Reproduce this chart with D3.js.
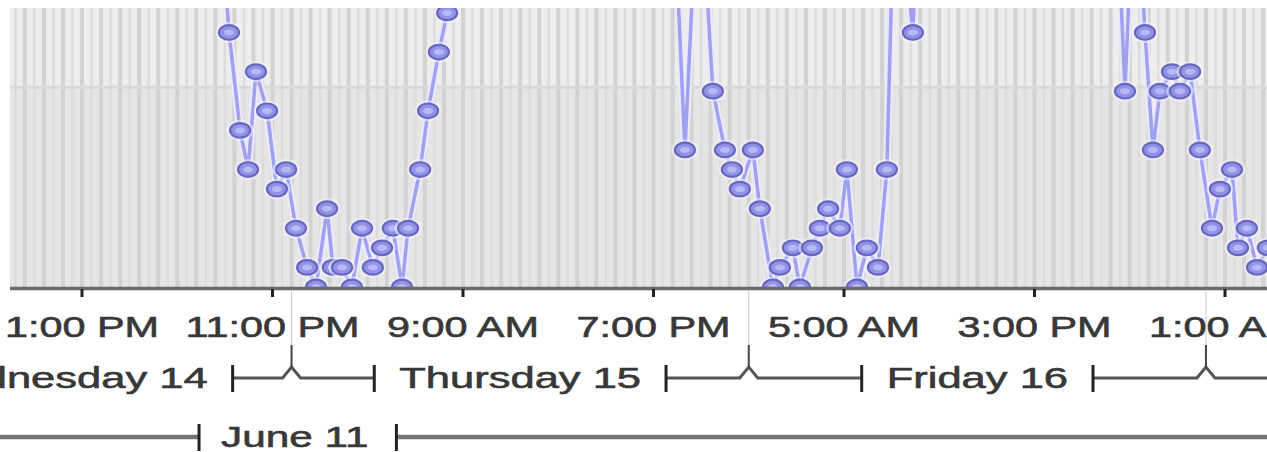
<!DOCTYPE html>
<html><head><meta charset="utf-8">
<script src="https://cdn.jsdelivr.net/npm/d3@7"></script>
<style>
body{margin:0;background:#fff;}
svg{display:block;}
text{font-family:"Liberation Sans",Arial,Helvetica,sans-serif;}
</style>
</head><body>
<svg id="c" width="1267" height="452"></svg>
<script>
// ---------- DATA ----------
const times = [
 "2006-06-14 20:12","2006-06-14 20:43","2006-06-14 21:18","2006-06-14 21:43","2006-06-14 22:08",
 "2006-06-14 22:43","2006-06-14 23:14","2006-06-14 23:43","2006-06-15 00:14","2006-06-15 00:49",
 "2006-06-15 01:17","2006-06-15 01:52","2006-06-15 02:10","2006-06-15 02:39","2006-06-15 03:10",
 "2006-06-15 03:42","2006-06-15 04:16","2006-06-15 04:45","2006-06-15 05:19","2006-06-15 05:48",
 "2006-06-15 06:07","2006-06-15 06:45","2006-06-15 07:10","2006-06-15 07:44","2006-06-15 08:10",
 "2006-06-15 08:41",
 "2006-06-15 19:58","2006-06-15 20:39","2006-06-15 21:23","2006-06-15 22:07","2006-06-15 22:45",
 "2006-06-15 23:07","2006-06-15 23:32","2006-06-16 00:13","2006-06-16 00:35","2006-06-16 01:16",
 "2006-06-16 01:38","2006-06-16 02:19","2006-06-16 02:41","2006-06-16 03:19","2006-06-16 03:44",
 "2006-06-16 04:10","2006-06-16 04:47","2006-06-16 05:09","2006-06-16 05:41","2006-06-16 06:12",
 "2006-06-16 06:47","2006-06-16 07:15","2006-06-16 07:41","2006-06-16 08:37","2006-06-16 08:59",
 "2006-06-16 19:13","2006-06-16 19:45","2006-06-16 20:16","2006-06-16 20:48","2006-06-16 21:13",
 "2006-06-16 21:35","2006-06-16 22:13","2006-06-16 22:38","2006-06-16 23:10","2006-06-16 23:41",
 "2006-06-17 00:19","2006-06-17 00:44","2006-06-17 01:22","2006-06-17 01:41","2006-06-17 02:09",
 "2006-06-17 02:41","2006-06-17 03:15"
];
const values = [
 20,13,8,6,11, 9,5,6,3,1, 0,4,1,1,0, 3,1,2,3,0, 3,6,9,12,14, 20,
 22,7,22,10,7, 6,5,7,4,0, 1,2,0,2,3, 4,3,6,0,2, 1,6,22,13,22,
 22,10,22,13,7, 10,11,10,11,7, 3,5,6,2,3, 1,2
];
const tickTimes = ["2006-06-14 13:00","2006-06-14 23:00","2006-06-15 09:00","2006-06-15 19:00",
                   "2006-06-16 05:00","2006-06-16 15:00","2006-06-17 01:00"];
const dayLabels = ["Wednesday 14","Thursday 15","Friday 16","Saturday 17"];
const dayCenters = ["2006-06-14 12:00","2006-06-15 12:00","2006-06-16 12:00","2006-06-17 12:00"];
const dayBoundaries = ["2006-06-15 00:00","2006-06-16 00:00","2006-06-17 00:00"];
const weekLabels = ["June 11"];
const weekCenters = ["2006-06-15 00:10"];

// ---------- SETUP ----------
const parse = d3.timeParse("%Y-%m-%d %H:%M");
const data = times.map((t,i)=>({t:parse(t), v:values[i]}));
const svg = d3.select("#c");
const W = 1267, leftX = 10, topY = 8, axisY = 287;
const pxPerHour = 19.05;
const t0 = parse("2006-06-14 13:00"), t1 = parse("2006-06-17 03:00");
const x = d3.scaleTime().domain([t0,t1]).range([82, 82 + 62*pxPerHour]);
const y = d3.scaleLinear().domain([0,14.25]).range([axisY, topY]);

svg.append("defs").append("clipPath").attr("id","clip")
  .append("rect").attr("x",leftX).attr("y",topY).attr("width",W-leftX).attr("height",axisY-topY);

// background
svg.append("rect").attr("x",leftX).attr("y",topY).attr("width",W-leftX).attr("height",axisY-topY).attr("fill","#e5e5e5");
svg.append("rect").attr("x",leftX).attr("y",topY).attr("width",W-leftX).attr("height",y(10.2)-topY).attr("fill","#ededee");
const g = svg.append("g").attr("clip-path","url(#clip)");
const dStart = x.invert(leftX), dEnd = x.invert(W);
const halfHours = d3.timeMinute.every(30).range(d3.timeHour.offset(dStart,-1), dEnd);
g.selectAll("line.vg").data(halfHours).join("line").attr("class","vg")
  .attr("x1",d=>x(d)).attr("x2",d=>x(d)).attr("y1",topY).attr("y2",axisY)
  .attr("stroke",d=>d.getMinutes()===0?"#d2d2d2":"#dcdcdc")
  .attr("stroke-width",d=>d.getMinutes()===0?4:2.5);
g.append("line").attr("x1",leftX).attr("x2",W).attr("y1",y(10.2)).attr("y2",y(10.2))
  .attr("stroke","#d9d9d9").attr("stroke-width",3);

// series
const line = d3.line().x(d=>x(d.t)).y(d=>y(d.v));
g.append("path").datum(data).attr("d",line).attr("fill","none")
  .attr("stroke","#e9e9fb").attr("stroke-width",8).attr("stroke-linejoin","round");
g.append("path").datum(data).attr("d",line).attr("fill","none")
  .attr("stroke","#a0a0ee").attr("stroke-width",3.5).attr("stroke-linejoin","round");
const m = g.selectAll("g.mk").data(data).join("g").attr("class","mk")
  .attr("transform",d=>`translate(${x(d.t)},${y(d.v)})`);
m.append("ellipse").attr("rx",13.5).attr("ry",10.5).attr("fill","#f4f4fd").attr("opacity",0.55);
m.append("ellipse").attr("rx",10).attr("ry",7.3).attr("fill","#9292e6").attr("stroke","#6767c0").attr("stroke-width",2.2);
m.append("ellipse").attr("rx",5).attr("ry",3).attr("fill","#b8b8f7");

// axis line & ticks
svg.append("line").attr("x1",leftX).attr("x2",W).attr("y1",axisY+1.5).attr("y2",axisY+1.5)
  .attr("stroke","#6a6a6a").attr("stroke-width",3.5);
const tks = tickTimes.map(parse);
svg.selectAll("line.tk").data(tks).join("line").attr("class","tk")
  .attr("x1",d=>x(d)).attr("x2",d=>x(d)).attr("y1",axisY+2).attr("y2",axisY+10)
  .attr("stroke","#222").attr("stroke-width",3);

function addText(px, py, str, sx){
  const t = svg.append("text")
    .attr("transform",`translate(${px},${py}) scale(${sx},1)`)
    .attr("text-anchor","middle").style("font-size","30px")
    .attr("fill","#383838").attr("stroke","#383838").attr("stroke-width",0.6).text(str);
  return t.node().getComputedTextLength()*sx;
}
const fmt = d3.timeFormat("%-I:%M %p");
// day boundary thin lines
const bnds = dayBoundaries.map(parse);
svg.selectAll("line.bl").data(bnds).join("line").attr("class","bl")
  .attr("x1",d=>x(d)).attr("x2",d=>x(d)).attr("y1",axisY+3).attr("y2",346)
  .attr("stroke","#c8c8c8").attr("stroke-width",1);
tks.forEach(d=>addText(x(d), 337, fmt(d), 1.38));

// day row
const dayY = 378, gap = 25;
const dayW = dayLabels.map((s,i)=>addText(x(parse(dayCenters[i])), 388, s, 1.45));
for(let i=0;i<dayLabels.length-1;i++){
  const c0 = x(parse(dayCenters[i])), c1 = x(parse(dayCenters[i+1]));
  const l = c0 + dayW[i]/2 + gap, r = c1 - dayW[i+1]/2 - gap;
  const mid = x(bnds[i]);
  svg.append("path").attr("d",`M${l},${dayY}L${mid-9},${dayY}L${mid},${dayY-11}L${mid+9},${dayY}L${r},${dayY}`)
    .attr("fill","none").attr("stroke","#555").attr("stroke-width",3);
  svg.append("line").attr("x1",mid).attr("x2",mid).attr("y1",345).attr("y2",dayY-11)
    .attr("stroke","#444").attr("stroke-width",2);
  [l,r].forEach(px=>svg.append("line").attr("x1",px).attr("x2",px).attr("y1",dayY-13).attr("y2",dayY+14)
    .attr("stroke","#222").attr("stroke-width",3));
}

// week row
const wkY = 437;
weekLabels.forEach((s,i)=>{
  const c = x(parse(weekCenters[i]));
  const w = addText(c, 447, s, 1.41);
  const l = c - w/2 - 22, r = c + w/2 + 28;
  svg.append("line").attr("x1",0).attr("x2",l).attr("y1",wkY).attr("y2",wkY).attr("stroke","#747474").attr("stroke-width",4.5);
  svg.append("line").attr("x1",r).attr("x2",W).attr("y1",wkY).attr("y2",wkY).attr("stroke","#747474").attr("stroke-width",4.5);
  [l,r].forEach(px=>svg.append("line").attr("x1",px).attr("x2",px).attr("y1",wkY-13).attr("y2",wkY+14)
    .attr("stroke","#222").attr("stroke-width",3));
});
</script>
</body></html>
